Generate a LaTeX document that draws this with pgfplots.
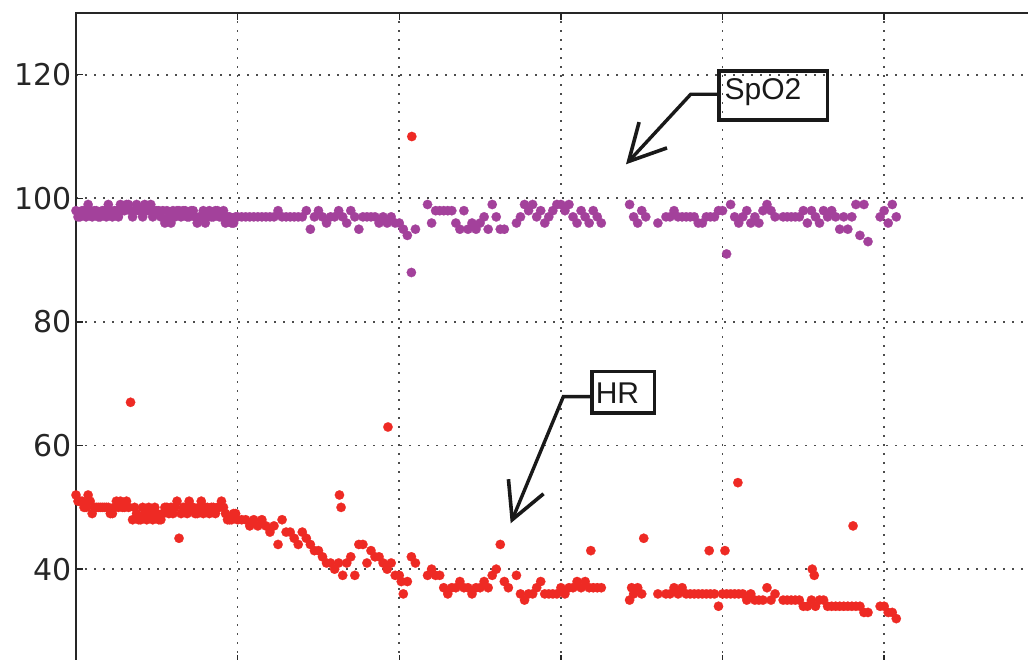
\documentclass[border=0pt]{standalone}
\usepackage{pgfplots}
\pgfplotsset{compat=1.18}
\usepackage{fontspec}
\setmainfont{DejaVu Sans}
\newfontfamily\annfont{Liberation Sans}
\usetikzlibrary{arrows.meta}
\definecolor{spo}{RGB}{163,65,155}
\definecolor{hrc}{RGB}{238,42,36}
\begin{document}
\begin{tikzpicture}
\path[use as bounding box] (0pt,0pt) rectangle (1028pt,660pt);
\clip (0pt,0pt) rectangle (1028pt,660pt);
\begin{axis}[
  at={(76pt,647.1pt)}, anchor=north west,
  scale only axis, width=969.8pt, height=649pt,
  xmin=0, xmax=240, ymin=25, ymax=130,
  xtick={40,80,120,160,200}, xticklabel=\empty,
  ytick={40,60,80,100,120},
  grid=major,
  major grid style={black!70, line width=1.7pt, dash pattern=on 1.7pt off 7.3pt},
  axis line style={line width=1.5pt, black!85},
  tick style={line width=1.5pt, black!85},
  major tick length=7pt,
  tick align=inside,
  /pgf/number format/assume math mode=true,
  yticklabel style={font=\fontsize{30}{36}\selectfont, text=black!85, anchor=east, inner sep=0pt, xshift=-4pt},
]
\addplot[spo, only marks, mark=*, mark size=4.7pt, line width=0.2pt] coordinates {
(0,98)(0.5,97)(1,97)(1.5,98)(2,98)(2.5,97)(3,99)(3.5,98)(4,97)(4.5,98)(5,98)(5.5,97)(6,97)(6.5,98)(7,98)(7.5,97)(8,99)(8.5,98)(9,97)(9.5,98)
(10,98)(10.5,97)(11,99)(11.5,98)(12,98)(12.5,99)(13,99)(13.5,98)(14,97)(14.5,98)(15,99)(15.5,98)(16,98)(16.5,97)(17,99)(17.5,98)(18,98)(18.5,99)(19,97)(19.5,98)
(20,98)(20.5,98)(21,97)(21.5,98)(22,96)(22.5,98)(23,97)(23.5,96)(24,98)(24.5,97)(25,98)(25.5,98)(26,97)(26.5,98)(27,98)(27.5,97)(28,97)(28.5,98)(29,98)(29.5,97)
(30,96)(30.5,97)(31,97)(31.5,98)(32,96)(32.5,97)(33,98)(33.5,97)(34,97)(34.5,98)(35,98)(35.5,97)(36,97)(36.5,98)(37,96)(37.5,97)(38,97)(38.5,96)(39,96)(39.5,97)
(40,97)(41,97)(42,97)(43,97)(44,97)(45,97)(46,97)(47,97)(48,97)(49,97)(50,98)(51,97)(52,97)(53,97)(54,97)(55,97)(56,97)(57,98)(58,95)(59,97)
(60,98)(61,97)(62,96)(63,97)(64,97)(65,98)(66,97)(67,96)(68,98)(69,97)(70,95)(71,97)(72,97)(73,97)(74,97)(75,96)(76,97)(77,96)(78,97)(79,96)
(80,96)(81,95)(82,94)(83,88)(84,95)(87,99)(88,96)(89,98)(90,98)(91,98)(92,98)(93,98)(94,96)(95,95)(96,98)(97,95)(98,96)(99,95)
(100,96)(101,97)(102,95)(103,99)(104,97)(105,95)(106,95)(109,96)(110,97)(111,99)(112,98)(113,99)(114,97)(115,98)(116,96)(117,97)(118,98)(119,99)
(120,99)(121,98)(122,99)(123,97)(124,96)(125,98)(126,97)(127,96)(128,98)(129,97)(130,96)(137,99)(138,97)(139,96)
(140,98)(141,97)(144,96)(146,97)(147,97)(148,98)(149,97)(150,97)(151,97)(152,97)(153,97)(154,96)(155,96)(156,97)(157,97)(158,97)(159,98)
(160,98)(161,91)(162,99)(163,97)(164,96)(165,97)(166,98)(167,96)(168,97)(169,96)(170,98)(171,99)(172,98)(173,97)(175,97)(176,97)(177,97)(178,97)(179,97)
(180,98)(181,96)(182,98)(183,97)(184,96)(185,98)(186,97)(187,98)(188,97)(189,95)(190,97)(191,95)(192,97)(193,99)(194,94)(195,99)(196,93)(199,97)
(200,98)(201,96)(202,99)(203,97)
};
\addplot[hrc, only marks, mark=*, mark size=4.7pt, line width=0.2pt] coordinates {
(0,52)(0.5,51)(1,51)(1.5,51)(2,50)(2.5,50)(3,52)(3.5,51)(4,49)(4.5,50)(5,50)(5.5,50)(6,50)(6.5,50)(7,50)(7.5,50)(8,50)(8.5,49)(9,49)(9.5,50)
(10,51)(10.5,50)(11,51)(11.5,50)(12,50)(12.5,51)(13,50)(13.5,67)(14,48)(14.5,50)(15,49)(15.5,48)(16,48)(16.5,50)(17,49)(17.5,48)(18,50)(18.5,49)(19,48)(19.5,50)
(20,49)(20.5,48)(21,48)(21.5,49)(22,50)(22.5,50)(23,49)(23.5,50)(24,49)(24.5,50)(25,51)(25.5,45)(26,49)(26.5,50)(27,50)(27.5,49)(28,51)(28.5,50)(29,50)(29.5,49)
(30,49)(30.5,50)(31,51)(31.5,49)(32,50)(32.5,50)(33,49)(33.5,50)(34,50)(34.5,49)(35,50)(35.5,50)(36,51)(36.5,50)(37,49)(37.5,48)(38,48)(38.5,48)(39,49)(39.5,49)
(40,48)(41,48)(42,48)(43,47)(44,48)(45,47)(46,48)(47,47)(48,46)(49,47)(50,44)(51,48)(52,46)(53,46)(54,45)(55,44)(56,46)(57,45)(58,44)(59,43)
(60,43)(61,42)(62,41)(63,41)(64,40)(65,41)(65.2,52)(65.6,50)(66,39)(67,41)(68,42)(69,39)(70,44)(71,44)(72,41)(73,43)(74,42)(75,42)(76,41)(77,40)(77.2,63)(78,41)(79,39)
(80,39)(80.5,38)(81,36)(82,38)(83,42)(83.1,110)(84,41)(87,39)(88,40)(89,39)(90,39)(91,37)(92,36)(93,37)(94,37)(95,38)(96,37)(97,37)(98,36)(99,37)
(100,37)(101,38)(102,37)(103,39)(104,40)(105,44)(106,38)(107,37)(109,39)(110,36)(111,35)(112,36)(113,36)(114,37)(115,38)(116,36)(117,36)(118,36)(119,36)
(120,37)(121,36)(122,37)(123,37)(124,38)(125,37)(126,38)(127,37)(127.4,43)(128,37)(129,37)(130,37)(137,35)(137.5,37)(138,36)(139,37)
(140,36)(140.5,45)(144,36)(146,36)(147,36)(148,37)(149,36)(150,37)(151,36)(152,36)(153,36)(154,36)(155,36)(156,36)(156.7,43)(157,36)(158,36)(159,34)
(160,36)(160.6,43)(161,36)(162,36)(163,36)(163.8,54)(164,36)(165,36)(166,35)(167,36)(168,35)(169,35)(170,35)(171,37)(172,35)(173,36)(175,35)(176,35)(177,35)(178,35)(179,35)
(180,34)(181,34)(182,35)(182.2,40)(182.7,39)(183,34)(184,35)(185,35)(186,34)(187,34)(188,34)(189,34)(190,34)(191,34)(192,34)(192.3,47)(193,34)(194,34)(195,33)(196,33)(199,34)
(200,34)(201,33)(202,33)(203,32)
};
\end{axis}
% annotations
\draw[line width=3.5pt, black!90] (719pt,540pt) rectangle (827.5pt,589pt);
\node[anchor=base west, inner sep=0pt, font=\annfont\fontsize{30}{36}\selectfont, text=black!90] at (724.5pt,560pt) {SpO2};
\draw[line width=3.4pt, black!90, line join=miter, -{Straight Barb[length=36pt,width=38pt,line width=3.6pt]}] (719pt,565.7pt) -- (690.7pt,565.7pt) -- (626pt,495.7pt);
\draw[line width=3.5pt, black!90] (591.75pt,246.75pt) rectangle (654.25pt,288.25pt);
\node[anchor=base west, inner sep=0pt, font=\annfont\fontsize{30}{36}\selectfont, text=black!90] at (595.6pt,256.7pt) {HR};
\draw[line width=3.4pt, black!90, line join=miter, -{Straight Barb[length=36pt,width=38pt,line width=3.6pt]}] (591.75pt,263.3pt) -- (563.3pt,263.3pt) -- (510.7pt,136.7pt);
\end{tikzpicture}
\end{document}
